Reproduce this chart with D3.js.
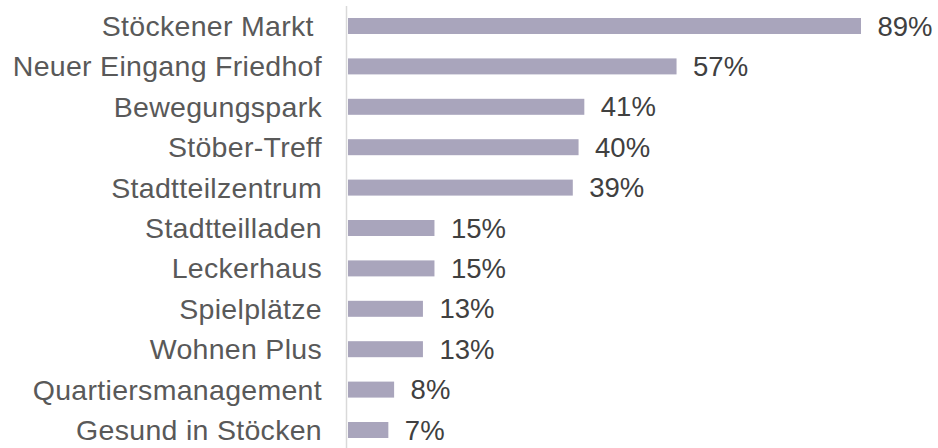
<!DOCTYPE html>
<html>
<head>
<meta charset="utf-8">
<script src="https://cdn.jsdelivr.net/npm/d3@7"></script>
<style>
  html, body { margin: 0; padding: 0; background: #fff; }
  text { font-family: "Liberation Sans", Arial, sans-serif; fill: #595959; }
</style>
</head>
<body>
<div class="chart"></div>
<script>
// places and share of mentions (%)
const places = [
  "Stöckener Markt ",
  "Neuer Eingang Friedhof",
  "Bewegungspark",
  "Stöber-Treff",
  "Stadtteilzentrum",
  "Stadtteilladen",
  "Leckerhaus",
  "Spielplätze",
  "Wohnen Plus",
  "Quartiersmanagement",
  "Gesund in Stöcken"
];
const shares = [89, 57, 41, 40, 39, 15, 15, 13, 13, 8, 7];

const width = 938;
const height = 448;
const axisX = 348;

const svg = d3
  .select(".chart")
  .append("svg")
  .attr("width", width)
  .attr("height", height);

const x = d3.scaleLinear().domain([0, 100]).range([axisX, axisX + 576.4]);

const y = d3
  .scaleBand()
  .domain(places)
  .range([5.8, 450.2])
  .paddingInner(0.604)
  .paddingOuter(0.302);

const rows = places.map((name, i) => ({ name, value: shares[i] }));

// bars
svg
  .append("g")
  .selectAll("rect")
  .data(rows)
  .enter()
  .append("rect")
  .attr("x", x(0))
  .attr("y", (d) => y(d.name))
  .attr("width", (d) => x(d.value) - x(0))
  .attr("height", y.bandwidth())
  .attr("fill", "#a9a5bc");

// category axis line
svg
  .append("line")
  .attr("x1", axisX - 1.5)
  .attr("x2", axisX - 1.5)
  .attr("y1", 6)
  .attr("y2", height)
  .attr("stroke", "#d9d9d9")
  .attr("stroke-width", 1.5);

// category labels
svg
  .append("g")
  .selectAll("text")
  .data(rows)
  .enter()
  .append("text")
  .attr("x", 322)
  .attr("y", (d) => y(d.name) + y.bandwidth() / 2)
  .attr("dy", "0.35em")
  .attr("text-anchor", "end")
  .attr("font-size", 28.5)
  .attr("letter-spacing", 0.3)
  .style("white-space", "pre")
  .text((d) => d.name);

// value labels
svg
  .append("g")
  .selectAll("text")
  .data(rows)
  .enter()
  .append("text")
  .attr("x", (d) => x(d.value) + 16.5)
  .attr("y", (d) => y(d.name) + y.bandwidth() / 2)
  .attr("dy", "0.35em")
  .attr("font-size", 27.5)
  .style("fill", "#404040")
  .text((d) => `${d.value}%`);
</script>
</body>
</html>
